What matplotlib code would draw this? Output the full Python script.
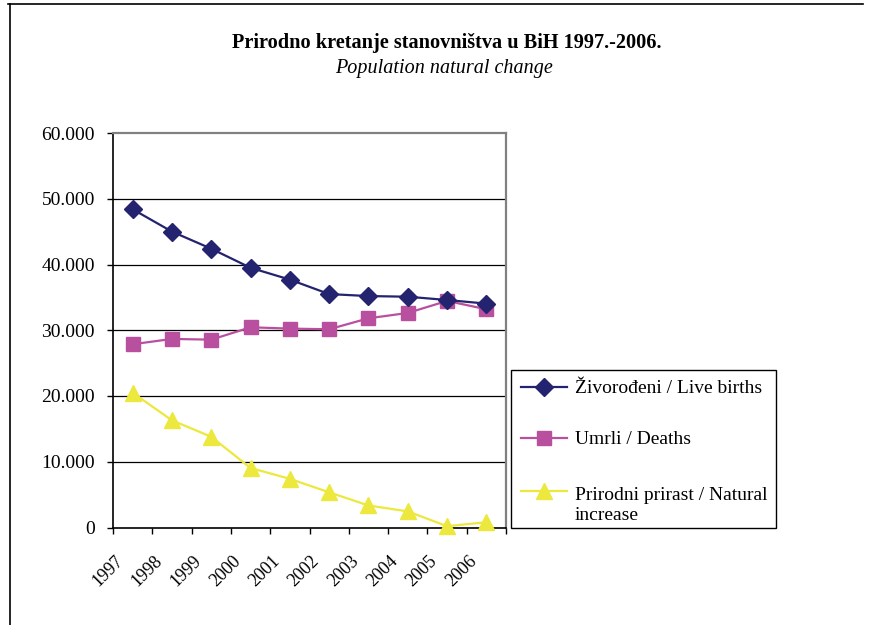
import matplotlib
matplotlib.use("Agg")
import matplotlib.pyplot as plt
from matplotlib.lines import Line2D
from matplotlib.patches import Rectangle
from matplotlib.transforms import ScaledTranslation, blended_transform_factory
import numpy as np

years = ["1997", "1998", "1999", "2000", "2001", "2002", "2003", "2004", "2005", "2006"]
live_births = [48400, 45000, 42400, 39500, 37700, 35500, 35200, 35100, 34600, 34050]
deaths = [27870, 28680, 28570, 30450, 30250, 30150, 31820, 32630, 34460, 33190]
natural_increase = [20500, 16300, 13800, 9050, 7400, 5350, 3350, 2450, 200, 800]
yticks = [0, 10000, 20000, 30000, 40000, 50000, 60000]
ytick_labels = ["0", "10.000", "20.000", "30.000", "40.000", "50.000", "60.000"]
labels = ["Živorođeni / Live births", "Umrli / Deaths", "Prirodni prirast / Natural\nincrease"]

plt.rcParams['font.family'] = ['Liberation Serif', 'DejaVu Serif']

W, H = 873, 625
DPI = 100
fig = plt.figure(figsize=(W / DPI, H / DPI), dpi=DPI)

def fx(px):
    return px / W

def fy(py):
    return 1 - py / H

# plot area in pixels
x0, x1, y0, y1 = 113, 506, 133, 527.5
ax = fig.add_axes([fx(x0), fy(y1), (x1 - x0) / W, (y1 - y0) / H])

x = np.arange(len(years)) + 0.5
c_b = "#23236f"
c_d = "#b9509f"
c_n = "#ece83e"
styles = [
    dict(color=c_b, lw=1.6, marker="D", ms=9, mec=c_b, mfc=c_b),
    dict(color=c_d, lw=1.6, marker="s", ms=9.5, mec=c_d, mfc=c_d),
    dict(color=c_n, lw=1.6, marker="^", ms=11, mec=c_n, mfc=c_n),
]
ax.plot(x, live_births, zorder=5, **styles[0])
ax.plot(x, deaths, zorder=4, **styles[1])
ax.plot(x, natural_increase, zorder=3, clip_on=False, **styles[2])

ax.set_xlim(0, len(years))
ax.set_ylim(0, 60000)
ax.set_yticks(yticks)
ax.set_yticklabels(ytick_labels, fontsize=14)
ax.set_xticks(np.arange(len(years) + 1))
ax.set_xticklabels([])
ax.tick_params(axis="x", which="major", length=4.5, width=1, direction="out", color="black")
ax.tick_params(axis="y", length=4.5, width=1, direction="out", color="black", pad=8.5)
for v in yticks[1:-1]:
    ax.axhline(v, color="black", lw=0.9, zorder=1)

# rotated category labels
btrans = blended_transform_factory(ax.transData, ax.transAxes)
off = ScaledTranslation(-25 / DPI, -43.5 / DPI, fig.dpi_scale_trans)
for xi, lab in zip(x, years):
    ax.text(xi, 0, lab, transform=btrans + off, rotation=45, ha="center", va="center",
            rotation_mode="anchor", fontsize=13, clip_on=False)

for s in ["top", "right"]:
    ax.spines[s].set_color("#808080")
    ax.spines[s].set_linewidth(1.6)
for s in ["left", "bottom"]:
    ax.spines[s].set_color("black")
    ax.spines[s].set_linewidth(1.2)

# legend drawn manually to match layout
lx0, ly0, lx1, ly1 = 511, 370, 776, 528
fig.add_artist(Rectangle((fx(lx0), fy(ly1)), (lx1 - lx0) / W, (ly1 - ly0) / H,
                         transform=fig.transFigure, fill=False, edgecolor="black", lw=1.0))
entry_y = [387, 438, 491]
for st, lab, ey in zip(styles, labels, entry_y):
    fig.add_artist(Line2D([fx(521), fx(567)], [fy(ey), fy(ey)], transform=fig.transFigure,
                          color=st["color"], lw=st["lw"]))
    fig.add_artist(Line2D([fx(544)], [fy(ey)], transform=fig.transFigure, lw=0,
                          marker=st["marker"], ms=st["ms"], mec=st["mec"], mfc=st["mfc"]))
    fig.text(fx(575), fy(ey), lab, ha="left", va="baseline", fontsize=14,
             linespacing=1.2,
             transform=fig.transFigure + ScaledTranslation(0, -6 / DPI, fig.dpi_scale_trans)
             if "\n" not in lab else fig.transFigure + ScaledTranslation(0, -6 / DPI - 23 / DPI, fig.dpi_scale_trans))

fig.text(fx(446.5), fy(43), "Prirodno kretanje stanovništva u BiH 1997.-2006.",
         ha="center", va="center", fontsize=14.6, fontweight="bold")
fig.text(fx(444), fy(69), "Population natural change",
         ha="center", va="center", fontsize=14.5, style="italic")

# figure frame lines (top and left)
fig.add_artist(Line2D([fx(8), fx(863)], [fy(3.5), fy(3.5)], color="black", lw=1.2,
                      transform=fig.transFigure))
fig.add_artist(Line2D([fx(10), fx(10)], [fy(3.5), 0], color="black", lw=1.2,
                      transform=fig.transFigure))

fig.savefig("out.png", dpi=DPI)
